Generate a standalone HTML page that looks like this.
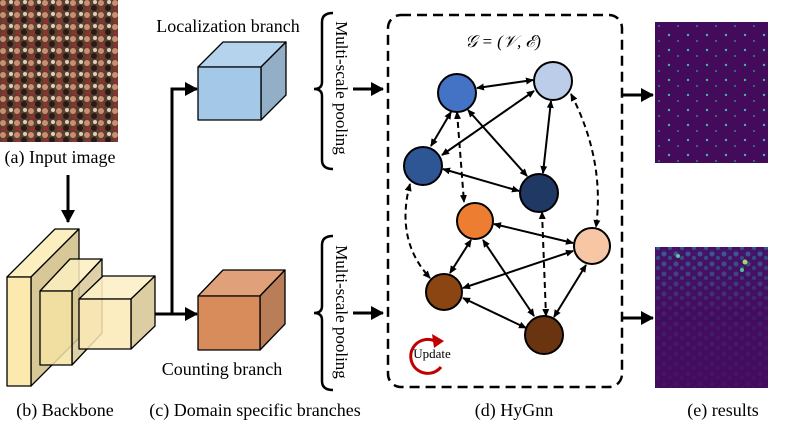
<!DOCTYPE html>
<html><head><meta charset="utf-8"><style>
body{margin:0;background:#fff;}
svg{display:block;font-family:"Liberation Serif",serif;}
</style></head><body>
<svg width="797" height="421" viewBox="0 0 797 421" xmlns="http://www.w3.org/2000/svg">
<defs>
<marker id="ah" markerWidth="8" markerHeight="8" refX="7" refY="4" orient="auto-start-reverse" markerUnits="userSpaceOnUse"><path d="M0,0.5 L8,4 L0,7.5z" fill="#000"/></marker>
<marker id="bh" markerWidth="14" markerHeight="14" refX="12" refY="7" orient="auto" markerUnits="userSpaceOnUse"><path d="M0,0 L13,7 L0,14z" fill="#000"/></marker>
<pattern id="crowd" width="14" height="12" patternUnits="userSpaceOnUse">
<rect width="14" height="12" fill="#5a4030"/>
<circle cx="3" cy="3" r="3" fill="#c89070"/><circle cx="10" cy="8" r="3" fill="#2a1a14"/><circle cx="11" cy="2" r="2" fill="#e0d0c0"/><circle cx="4" cy="9" r="2.5" fill="#903030"/>
</pattern>
<pattern id="dots1" width="19" height="15" patternUnits="userSpaceOnUse">
<rect width="19" height="15" fill="#440a5c"/><circle cx="4" cy="5" r="1.2" fill="#3fb8a0"/><circle cx="13" cy="11" r="0.9" fill="#35a0a0"/>
</pattern>
<pattern id="dots2" width="12" height="10" patternUnits="userSpaceOnUse">
<rect width="12" height="10" fill="#451468"/><circle cx="4" cy="4" r="2.5" fill="#3a5f92"/><circle cx="10" cy="8" r="2" fill="#33588c"/>
</pattern>
<linearGradient id="fade" x1="0" y1="0" x2="0" y2="1"><stop offset="0" stop-color="#440a5c" stop-opacity="0"/><stop offset="0.45" stop-color="#440a5c" stop-opacity="0.75"/><stop offset="1" stop-color="#440a5c" stop-opacity="0.9"/></linearGradient>
</defs>

<!-- input image -->
<rect x="0" y="0" width="118" height="142" fill="url(#crowd)"/>
<text x="60" y="163" font-size="18" text-anchor="middle">(a) Input image</text>
<line x1="68" y1="175" x2="68" y2="222" stroke="#000" stroke-width="3" marker-end="url(#bh)"/>

<!-- backbone -->
<g stroke="#000" stroke-width="1.3" stroke-linejoin="round">
<path d="M7,277 L55,229 L79,229 L31,277z" fill="#fbefc0"/>
<path d="M31,277 L79,229 L79,338 L31,386z" fill="#d8c898"/>
<rect x="7" y="277" width="24" height="109" fill="#fce9ad"/>
<path d="M40,291 L70,259 L102,259 L72,291z" fill="#fbefc0" fill-opacity="0.85"/>
<path d="M72,291 L102,259 L102,333 L72,365z" fill="#d8c898" fill-opacity="0.85"/>
<rect x="40" y="291" width="32" height="74" fill="#f6e3a2" fill-opacity="0.85"/>
<path d="M79,299 L103,276 L155,276 L131,299z" fill="#fdf0c8" fill-opacity="0.9"/>
<path d="M131,299 L155,276 L155,326 L131,349z" fill="#d8c898" fill-opacity="0.9"/>
<rect x="79" y="299" width="52" height="50" fill="#fbeab6" fill-opacity="0.85"/>
</g>
<text x="65" y="416" font-size="18" text-anchor="middle">(b) Backbone</text>

<!-- connectors -->
<path d="M155,314 L172,314 L172,89 L185,89" fill="none" stroke="#000" stroke-width="3"/>
<line x1="172" y1="89" x2="197" y2="89" stroke="#000" stroke-width="3" marker-end="url(#bh)"/>
<line x1="155" y1="314" x2="197" y2="314" stroke="#000" stroke-width="3" marker-end="url(#bh)"/>

<!-- localization cube -->
<g stroke="#000" stroke-width="1.3" stroke-linejoin="round">
<path d="M198,67 L223,42 L286,42 L261,67z" fill="#b5d3ec"/>
<path d="M261,67 L286,42 L286,95 L261,120z" fill="#93afc7"/>
<rect x="198" y="67" width="63" height="53" fill="#a4c8e8"/>
</g>
<text x="228" y="32" font-size="18" text-anchor="middle">Localization branch</text>

<!-- counting cube -->
<g stroke="#000" stroke-width="1.3" stroke-linejoin="round">
<path d="M198,296 L223,270 L285,270 L260,296z" fill="#dfa07a"/>
<path d="M260,296 L285,270 L285,324 L260,350z" fill="#b97d58"/>
<rect x="198" y="296" width="62" height="54" fill="#d88b5b"/>
</g>
<text x="222" y="375" font-size="18" text-anchor="middle">Counting branch</text>
<text x="255" y="416" font-size="18" text-anchor="middle">(c) Domain specific branches</text>

<!-- braces -->
<g fill="none" stroke="#000" stroke-width="2.5">
<path d="M333,13 Q322,13 322,22 L322,82 Q322,89 314,89 Q322,89 322,96 L322,160 Q322,169 333,169"/>
<path d="M333,236 Q322,236 322,245 L322,306 Q322,313 314,313 Q322,313 322,320 L322,381 Q322,390 333,390"/>
</g>
<text transform="translate(336,88) rotate(90)" font-size="17" text-anchor="middle">Multi-scale pooling</text>
<text transform="translate(336,312) rotate(90)" font-size="17" text-anchor="middle">Multi-scale pooling</text>
<line x1="353" y1="89" x2="383" y2="89" stroke="#000" stroke-width="3" marker-end="url(#bh)"/>
<line x1="353" y1="313" x2="383" y2="313" stroke="#000" stroke-width="3" marker-end="url(#bh)"/>

<!-- graph box -->
<rect x="388" y="15" width="234" height="372" rx="13" fill="none" stroke="#000" stroke-width="2.5" stroke-dasharray="10,6"/>
<text x="503" y="47" font-size="17" font-style="italic" text-anchor="middle">𝒢 = (𝒱, ℰ)</text>

<g stroke="#000" stroke-width="2" fill="none" marker-start="url(#ah)" marker-end="url(#ah)">
<line x1="477" y1="88" x2="533" y2="80"/>
<line x1="451" y1="112" x2="431" y2="146"/>
<line x1="534" y1="91" x2="442" y2="155"/>
<line x1="468" y1="110" x2="527" y2="176"/>
<line x1="551" y1="101" x2="543" y2="173"/>
<line x1="443" y1="169" x2="519" y2="191"/>
<line x1="494" y1="224" x2="573" y2="243"/>
<line x1="471" y1="240" x2="450" y2="273"/>
<line x1="463" y1="288" x2="573" y2="251"/>
<line x1="483" y1="240" x2="534" y2="316"/>
<line x1="463" y1="298" x2="526" y2="328"/>
<line x1="586" y1="265" x2="554" y2="317"/>
</g>
<g stroke="#000" stroke-width="2" fill="none" stroke-dasharray="6,4" marker-start="url(#ah)" marker-end="url(#ah)">
<line x1="457" y1="112" x2="464" y2="202"/>
<path d="M571,94 Q605,160 596,227"/>
<path d="M410,184 Q395,240 430,278"/>
<line x1="542" y1="212" x2="546" y2="316"/>
</g>
<g stroke="#000" stroke-width="2">
<circle cx="457" cy="93" r="19" fill="#4472c4"/>
<circle cx="553" cy="81" r="19" fill="#bccde9"/>
<circle cx="423" cy="166" r="19" fill="#2e5594"/>
<circle cx="539" cy="193" r="19" fill="#203864"/>
<circle cx="475" cy="221" r="18" fill="#ed7d31"/>
<circle cx="592" cy="246" r="18" fill="#f7c6a4"/>
<circle cx="444" cy="292" r="18" fill="#8b4513"/>
<circle cx="544" cy="335" r="19" fill="#6b3410"/>
</g>
<path d="M435,341 A17,17 0 1 0 441,367" fill="none" stroke="#c00000" stroke-width="3"/>
<path d="M432,334 L444,341 L434,348z" fill="#c00000"/>
<text x="432" y="358" font-size="13" text-anchor="middle">Update</text>
<text x="514" y="416" font-size="18" text-anchor="middle">(d) HyGnn</text>

<!-- outputs -->
<line x1="623" y1="95" x2="653" y2="95" stroke="#000" stroke-width="3" marker-end="url(#bh)"/>
<line x1="623" y1="318" x2="653" y2="318" stroke="#000" stroke-width="3" marker-end="url(#bh)"/>
<rect x="655" y="22" width="113" height="141" fill="url(#dots1)"/>
<rect x="655" y="247" width="113" height="141" fill="url(#dots2)"/>
<rect x="655" y="247" width="113" height="141" fill="url(#fade)"/>
<circle cx="678" cy="256" r="2" fill="#60c890"/><circle cx="745" cy="262" r="2.5" fill="#a0d860"/><circle cx="742" cy="270" r="2" fill="#50c0a0"/>
<text x="723" y="416" font-size="18" text-anchor="middle">(e) results</text>
</svg>
</body></html>
